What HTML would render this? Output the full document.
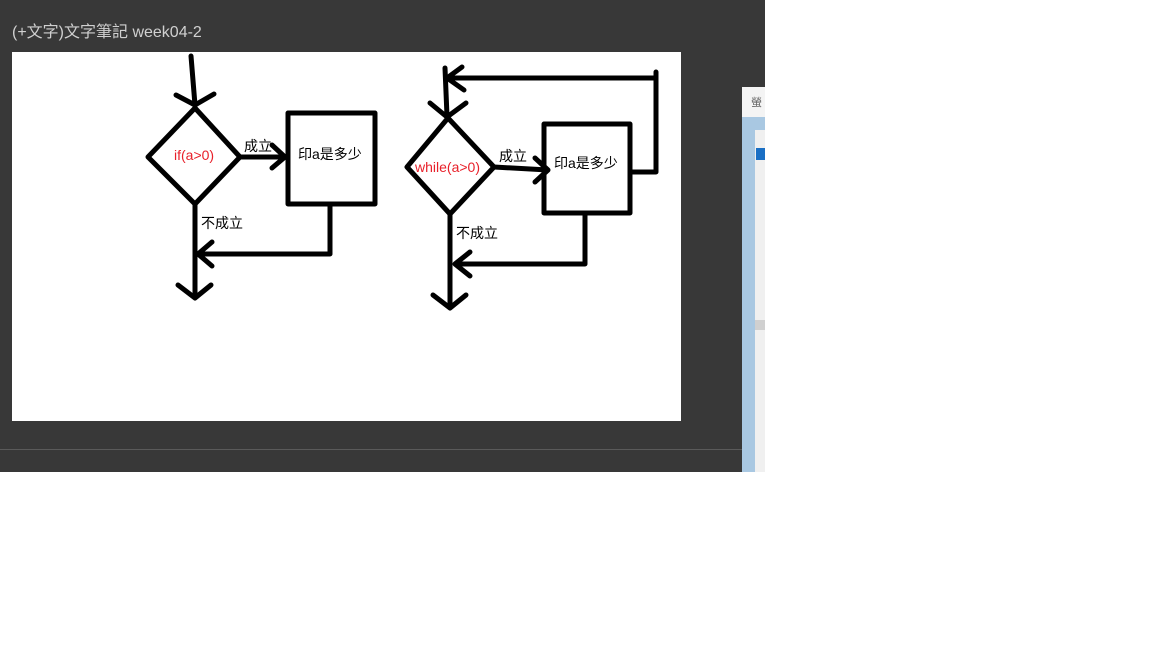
<!DOCTYPE html>
<html><head><meta charset="utf-8"><style>
body{margin:0;width:1152px;height:648px;background:#fff;overflow:hidden;font-family:"Liberation Sans","Noto Sans CJK TC",sans-serif}
</style></head><body>
<svg width="1152" height="648" style="position:absolute;left:0;top:0">
<rect x="0" y="0" width="765" height="472" fill="#383838"/>
<line x1="0" y1="449.5" x2="742" y2="449.5" stroke="#5a5a5a"/>
<text x="12" y="37" fill="#d0d0d0" font-size="16">(+文字)文字筆記 week04-2</text>
<rect x="12" y="52" width="669" height="369" fill="#fff"/>
<g>
<rect x="742" y="87" width="23" height="385" fill="#f4f4f4"/>
<text x="751" y="106" font-size="11" fill="#666">螢</text>
<rect x="742" y="117" width="23" height="355" fill="#a9c8e2"/>
<rect x="755" y="130" width="10" height="342" fill="#f0f0f0"/>
<rect x="756" y="148" width="9" height="12" fill="#1a6fc4"/>
<rect x="755" y="320" width="10" height="10" fill="#d0d0d0"/>
</g>
<g stroke="#000" stroke-width="5" fill="none" stroke-linecap="round" stroke-linejoin="round">
<!-- left -->
<path d="M191 56 L195 105 M176 95 L195 105 L214 94"/>
<path d="M195 108 L148 157 L195 204 L240 157 Z"/>
<path d="M240 157 L285 157 M272 145 L285 157 L272 168"/>
<rect x="288" y="113" width="87" height="91"/>
<path d="M330 204 L330 254 L198 254 M212 242 L198 254 L212 266"/>
<path d="M195 204 L195 298 M178 285 L195 298 L211 285"/>
<!-- right -->
<path d="M656 72 L656 172 L631 172"/>
<path d="M656 78 L447 78 M462 67 L447 78 L464 90"/>
<path d="M445 68 L447 116 M430 103 L447 117 L466 103"/>
<path d="M448 118 L407 167 L450 214 L494 167 Z"/>
<path d="M494 167 L548 170 M535 158 L548 170 L535 182"/>
<rect x="544" y="124" width="86" height="89"/>
<path d="M585 213 L585 264 L455 264 M470 252 L455 264 L470 276"/>
<path d="M450 214 L450 308 M433 295 L450 308 L466 295"/>
</g>
<g font-size="14">
<text x="174" y="160" fill="#e8202a">if(a&gt;0)</text>
<text x="244" y="151" fill="#000">成立</text>
<text x="298" y="159" fill="#000">印a是多少</text>
<text x="201" y="228" fill="#000">不成立</text>
<text x="415" y="172" fill="#e8202a">while(a&gt;0)</text>
<text x="499" y="161" fill="#000">成立</text>
<text x="554" y="168" fill="#000">印a是多少</text>
<text x="456" y="238" fill="#000">不成立</text>
</g>
</svg>
</body></html>
